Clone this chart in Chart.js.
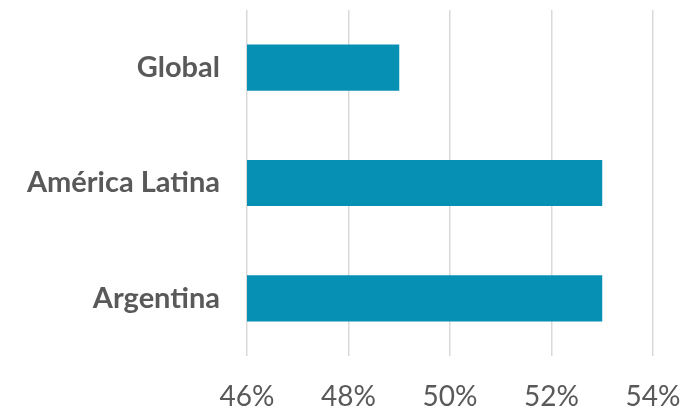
<!DOCTYPE html>
<html>
<head>
<meta charset="utf-8">
<script src="https://cdn.jsdelivr.net/npm/chart.js@4"></script>
<style>
	html, body { margin: 0; padding: 0; background: #fff; }
	#wrap { width: 684px; height: 410px; }
</style>
</head>
<body>
<div id="wrap"><canvas id="barChart"></canvas></div>
<script>
// datos
const categories = ["Global", "América Latina", "Argentina"];
const values = [49, 53, 53];
const axisMin = 46;
const axisMax = 54;
const axisStep = 2;

// keep the plot area where the reference has it
function noScalePadding(scale) {
	scale.paddingTop = 0;
	scale.paddingBottom = 0;
	scale.paddingLeft = 0;
	scale.paddingRight = 0;
}

const buildBarChart = () => {
	var ctx = document.getElementById("barChart").getContext("2d");
	var myBarChart = new Chart(ctx, {
		type: "bar",
		data: {
			labels: categories,
			datasets: [
				{
					data: values,
					backgroundColor: "#0691b4",
					categoryPercentage: 1,
					barPercentage: 0.4,
				},
			],
		},
		options: {
			indexAxis: "y",
			responsive: true,
			maintainAspectRatio: false,
			animation: false,
			layout: { padding: { top: 10, right: 31, left: 0, bottom: 0 } },
			plugins: { legend: { display: false }, tooltip: { enabled: false } },
			scales: {
				x: {
					min: axisMin,
					max: axisMax,
					border: { display: false },
					grid: { color: "#d9d9d9", lineWidth: 1.5, drawTicks: false },
					ticks: {
						stepSize: axisStep,
						padding: 24,
						color: "#595959",
						font: { family: "Lato", size: 28 },
						callback: (v) => v + "%",
					},
					afterFit: (scale) => {
						scale.height = 54;
						noScalePadding(scale);
					},
				},
				y: {
					border: { display: false },
					grid: { display: false, drawTicks: false },
					ticks: {
						padding: 27,
						color: "#595959",
						font: { family: "Lato", size: 29, weight: "bold" },
					},
					afterFit: (scale) => {
						scale.width = 247;
						noScalePadding(scale);
					},
				},
			},
		},
	});
};

window.onload = () => {
	buildBarChart();
};
</script>
</body>
</html>
